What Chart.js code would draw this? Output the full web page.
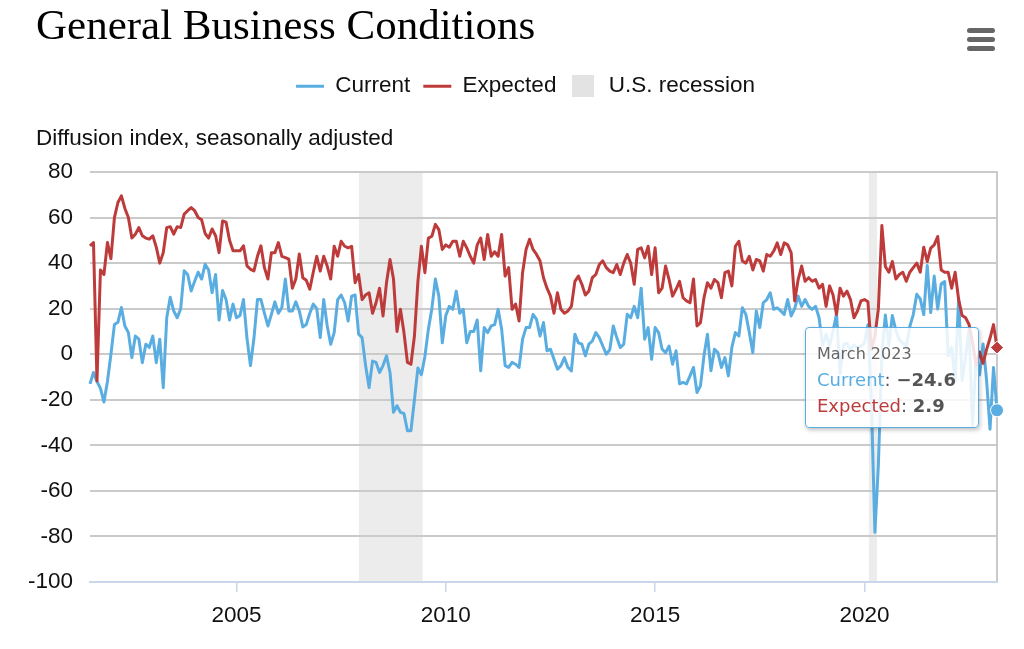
<!DOCTYPE html>
<html lang="en">
<head>
  <meta charset="UTF-8" />
  <title>General Business Conditions</title>
  <script src="https://cdn.jsdelivr.net/npm/chart.js"></script>
  <style>
    html, body { margin: 0; padding: 0; background: #fff; }
    .wrap { position: relative; width: 1024px; height: 649px; overflow: hidden; }
    .menu { position: absolute; left: 967px; top: 28px; width: 28px; }
    .menu span { display: block; height: 5px; margin-bottom: 4px; border-radius: 2.5px; background: #666; }
    #tip {
      position: absolute; display: none; box-sizing: border-box;
      width: 174px; height: 101px; padding: 13px 10px 8px 11px;
      background: rgba(255, 255, 255, 0.85); border: 1px solid #5aade0; border-radius: 4px;
      box-shadow: 1px 2px 4px rgba(0, 0, 0, 0.25);
      font-family: 'DejaVu Sans', sans-serif; white-space: nowrap; pointer-events: none;
    }
    #tip .t { font-size: 16px; line-height: 26px; color: #666; }
    #tip .r { font-size: 18px; line-height: 26px; color: #555; }
    #tip .r b { color: #555; }
  </style>
</head>
<body>
<div class="wrap">
  <canvas id="chart"></canvas>
  <div class="menu"><span></span><span></span><span></span></div>
  <div id="tip"></div>
</div>

<script>
  // monthly series, first value = July 2001
  const firstYear = 2001;
  const firstMonth = 6;

  const current = [
    -13, -8, -12, -15, -21, -12,                                   // 2001 Jul-Dec
    0, 13, 14, 20.5, 12.4, 9.5, -1.5, 8, 6.6, -3.7, 4.4, 3,        // 2002
    8, -3.7, 6.6, -14.7, 16, 25, 19, 16, 20, 36.6, 35, 27.8,       // 2003
    32, 36, 33, 39.5, 37, 27, 35, 15, 28, 24, 15, 22,              // 2004
    16, 17, 24, 7, -5, 7, 24, 24, 18, 12.4, 17.5, 23,              // 2005
    18, 20.5, 33, 19, 19, 23, 19, 12, 13, 18, 22, 20,              // 2006
    7.3, 24, 12.4, 4.4, 9.5, 24, 26, 22.6, 14.6, 25.5, 26, 8.8,    // 2007
    7.3, -5, -14.6, -3, -3.6, -8, -5, -0.7, -8, -25.5, -22.6, -25.5, // 2008
    -26, -33.6, -33.6, -20, -6, -9, -1, 11, 20, 33, 25.5, 5,       // 2009
    17, 21, 19.7, 27.7, 18, 19.7, 5, 10, 10, 15, -7.3, 11.7,       // 2010
    9.5, 12.4, 13, 19.7, 11, -5, -5.8, -3.6, -4.4, -5.8, 6.6, 11.7, // 2011
    11.7, 17.5, 15.3, 8, 13.9, 1.5, 2.2, -2.2, -6.6, -5, -1.5, -5.8, // 2012
    -7.3, 8.8, 5, 4.4, -0.7, 4.4, 5.8, 9.5, 7.3, 3.6, 0, 2,        // 2013
    12.4, 7.3, 2.9, 4.4, 17.5, 16, 21, 16, 29, 6.6, 11.7, -2.2,    // 2014
    11.7, 9.5, 2.2, 0.7, 3.6, -4.4, 1.5, -13, -12.4, -13, -9.5, -5.8, // 2015
    -16.8, -13.9, -0.7, 8.8, -7.3, 2.2, 0.7, -5.8, -1.5, -9.5, 3, 9.5, // 2016
    8, 20.4, 17.5, 9.5, 0.7, 19, 11.7, 22.6, 24, 27, 19.7, 20.4,   // 2017
    19, 17.5, 24, 16.8, 20, 25.5, 21, 24, 21, 19.7, 21, 16,        // 2018
    3.9, 8.8, 3.7, 10.1, 17.8, -8.6, 4.3, 4.8, 2, 4, 2.9, 3.5,     // 2019
    4.8, 12.9, -21.5, -78.2, -48.5, -0.2, 17.2, 3.7, 17, 10.5, 6.3, 4.9, // 2020
    3.5, 12.1, 17.4, 26.3, 24.3, 17.4, 39, 18.3, 34.3, 19.8, 30.9, 31.9, // 2021
    -0.7, 3.1, -11.8, 24.6, -11.6, -1.2, 11.1, -31.3, -1.5, -9.1, 4.5, -11.2, // 2022
    -32.9, -5.8, -24.6                                             // 2023 Jan-Mar
  ];

  const expected = [
    47.6, 49, -11.7, 37, 35, 49,                                   // 2001 Jul-Dec
    42, 60, 66.6, 69.5, 64, 60, 51, 52.7, 55.6, 52, 51, 50.5,      // 2002
    52, 47, 40, 44.6, 55.6, 56, 52.7, 56, 55.6, 61.5, 63, 64.4,    // 2003
    63, 60, 59, 53, 51, 55, 52, 44.6, 58.5, 58, 50, 45.4,          // 2004
    45.4, 45.4, 47.6, 38.8, 37.3, 36.6, 43, 47.6, 38, 33, 44.6, 44.6, // 2005
    49, 43, 42.4, 41.7, 29, 33, 44, 33.6, 32.5, 28.5, 36, 43,      // 2006
    36.5, 43, 38.7, 33, 47.4, 43, 49.6, 47.4, 46.7, 47.4, 31.4, 35, // 2007
    24, 26, 27, 18, 22.6, 29, 16.8, 31.4, 41.6, 33, 10, 19.7,      // 2008
    9.5, -3.6, -4.4, 8, 32, 47.4, 35.8, 51, 51.8, 57, 54.7, 46,    // 2009
    48, 47, 49.6, 49.6, 43, 49.6, 46.7, 43, 40, 48, 51, 41.6,      // 2010
    52.6, 43, 45, 43, 52.6, 34.3, 38, 19.7, 22, 14.6, 35.8, 46,    // 2011
    50.5, 46, 43.8, 41, 33.6, 29, 25.5, 18, 27, 19.7, 18, 19,      // 2012
    21, 32, 34.3, 30.7, 26, 27.7, 33.6, 35, 39.4, 41, 38, 36.5,    // 2013
    35.8, 39.4, 35, 40, 43.8, 40, 30.7, 46, 46.7, 42.3, 47.4, 35,  // 2014
    46.7, 27, 29, 38.7, 32.8, 25.5, 28.5, 32, 24.8, 23.4, 22.6, 33, // 2015
    12.4, 13.9, 24.8, 31.4, 29, 32.8, 31.4, 24.8, 35.8, 36.5, 30, 47.4, // 2016
    49.6, 40.9, 40, 43, 37, 41.6, 41, 36.5, 43.8, 43, 45.3, 48.9,  // 2017
    43.8, 48.9, 48, 44.5, 23.4, 32.8, 38.7, 32, 33.6, 32, 32.8, 29, // 2018
    30.7, 21, 30, 26, 17.5, 29, 25.5, 27.7, 24, 16, 19, 23.4,      // 2019
    24, 23, 2, 8, 20, 56.5, 38.5, 36, 40.7, 33, 35, 36,            // 2020
    32, 36, 38, 40, 36, 47, 40.7, 46.6, 48, 51.7, 37, 36,          // 2021
    36, 29, 36, 24, 17, 16, 13, 5, -5, 1, -4, 2,                   // 2022
    7, 13, 2.9                                                     // 2023 Jan-Mar
  ];

  // recession bands, in decimal years
  const recessionStart = [2007.92, 2020.1];
  const recessionEnd = [2009.45, 2020.3];

  const yearTicks = [2005, 2010, 2015, 2020];
  const yMin = -100, yMax = 80, yStep = 20;

  const monthNames = ['January', 'February', 'March', 'April', 'May', 'June', 'July',
    'August', 'September', 'October', 'November', 'December'];

  const BLUE = '#5aade0';
  const RED = '#be3b3b';

  const monthX = current.map((v, i) => firstYear + (firstMonth + i) / 12);
  const last = current.length - 1;

  const recessionData = [];
  recessionStart.forEach((s, k) => {
    if (k) recessionData.push({ x: s, y: null });
    recessionData.push({ x: s, y: yMax }, { x: recessionEnd[k], y: yMax });
  });

  // grey square for the legend
  const swatch = document.createElement('canvas');
  swatch.width = 22; swatch.height = 22;
  const sctx = swatch.getContext('2d');
  sctx.fillStyle = '#e3e3e3';
  sctx.fillRect(0, 0, 22, 22);

  function fmt(v) {
    return (v < 0 ? '\u2212' : '') + Math.abs(v).toFixed(1);
  }

  function renderTip({ tooltip }) {
    const tip = document.getElementById('tip');
    if (tooltip.opacity === 0 || !tooltip.dataPoints) { tip.style.display = 'none'; return; }
    const pts = tooltip.dataPoints;
    const m = firstMonth + pts[0].dataIndex;
    let html = '<div class="t">' + monthNames[m % 12] + ' ' + (firstYear + Math.floor(m / 12)) + '</div>';
    pts.forEach(p => {
      html += '<div class="r"><span style="color:' + p.dataset.borderColor + '">' + p.dataset.label +
        '</span>: <b>' + fmt(p.parsed.y) + '</b></div>';
    });
    tip.innerHTML = html;
    tip.style.display = 'block';
    tip.style.left = (tooltip.caretX - 192) + 'px';
    tip.style.top = (tooltip.caretY - 52) + 'px';
  }

  // let "-100" run left of the title margin, and nudge the legend row to the right
  const layoutTweaks = {
    id: 'layoutTweaks',
    afterLayout(chart) {
      chart.scales.y.left = 0;
      chart.legend.left += 18;
    }
  };

  Chart.defaults.font.family = "'Liberation Sans', Arial, Helvetica, sans-serif";

  const series = (label, values, color, style, radius, order) => ({
    label: label,
    data: values.map((v, i) => ({ x: monthX[i], y: v })),
    borderColor: color,
    backgroundColor: color,
    borderWidth: 3,
    borderJoinStyle: 'round',
    tension: 0,
    fill: false,
    clip: false,
    pointRadius: 0,
    pointStyle: style,
    pointHoverRadius: radius,
    pointHoverBackgroundColor: color,
    pointHoverBorderColor: '#fff',
    pointHoverBorderWidth: 1,
    order: order
  });

  const chart = new Chart(document.getElementById('chart'), {
    type: 'line',
    data: {
      datasets: [
        series('Current', current, BLUE, 'circle', 6.5, 1),
        series('Expected', expected, RED, 'rectRot', 6.5, 0),
        {
          label: 'U.S. recession',
          data: recessionData,
          borderWidth: 0,
          borderColor: 'rgba(0,0,0,0)',
          backgroundColor: '#ececec',
          pointRadius: 0,
          pointHoverRadius: 0,
          fill: 'start',
          spanGaps: false,
          order: 2
        }
      ]
    },
    plugins: [layoutTweaks],
    options: {
      responsive: true,
      maintainAspectRatio: false,
      animation: false,
      events: [],
      layout: { padding: { top: 0, left: 36, right: 27, bottom: 17 } },
      interaction: { mode: 'index', intersect: false },
      scales: {
        x: {
          type: 'linear',
          min: monthX[0],
          max: monthX[last],
          afterBuildTicks: s => { s.ticks = yearTicks.map(v => ({ value: v })); },
          afterFit: s => { s.height = 50; },
          ticks: { callback: v => String(v), color: '#111', font: { size: 22.5 }, padding: 10, maxRotation: 0, autoSkip: false },
          grid: { drawOnChartArea: false, drawTicks: true, tickLength: 10, color: '#ccd6eb', lineWidth: 1.5 },
          border: { display: true, color: '#ccd6eb', width: 2, z: 1 }
        },
        y: {
          min: yMin,
          max: yMax,
          afterFit: s => { s.width = 54; },
          ticks: { stepSize: yStep, color: '#111', font: { size: 22.5 }, padding: 17 },
          grid: { color: '#cacaca', lineWidth: 2, drawTicks: false },
          border: { display: false }
        },
        yRight: {
          position: 'right',
          min: yMin,
          max: yMax,
          afterFit: s => { s.width = 0; },
          ticks: { display: false },
          grid: { display: false },
          border: { display: true, color: '#cacaca', width: 2 }
        }
      },
      plugins: {
        filler: { drawTime: 'beforeDraw' },
        title: {
          display: true,
          text: 'General Business Conditions',
          align: 'start',
          color: '#000',
          font: { family: "'Liberation Serif', 'Times New Roman', serif", size: 43, weight: 'normal', lineHeight: 1 },
          padding: { top: 6, bottom: 13 }
        },
        legend: {
          display: true,
          position: 'top',
          labels: {
            usePointStyle: true,
            pointStyleWidth: 28,
            padding: 13,
            color: '#111',
            font: { size: 22.5 },
            generateLabels: c => Chart.defaults.plugins.legend.labels.generateLabels(c)
              .sort((a, b) => a.datasetIndex - b.datasetIndex)
              .map(item => {
                item.pointStyle = item.datasetIndex === 2 ? swatch : 'line';
                return item;
              })
          }
        },
        subtitle: {
          display: true,
          text: 'Diffusion index, seasonally adjusted',
          align: 'start',
          color: '#111',
          font: { size: 22.5, lineHeight: 1.2 },
          padding: { top: 18, bottom: 19.5 },
          weight: 500
        },
        tooltip: {
          enabled: false,
          external: renderTip,
          filter: item => item.datasetIndex < 2
        }
      }
    }
  });

  // show the last month as in the reference
  const active = [{ datasetIndex: 0, index: last }, { datasetIndex: 1, index: last }];
  chart.setActiveElements(active);
  chart.update();
  chart.tooltip.setActiveElements(active, { x: 0, y: 0 });
</script>
</body>
</html>
